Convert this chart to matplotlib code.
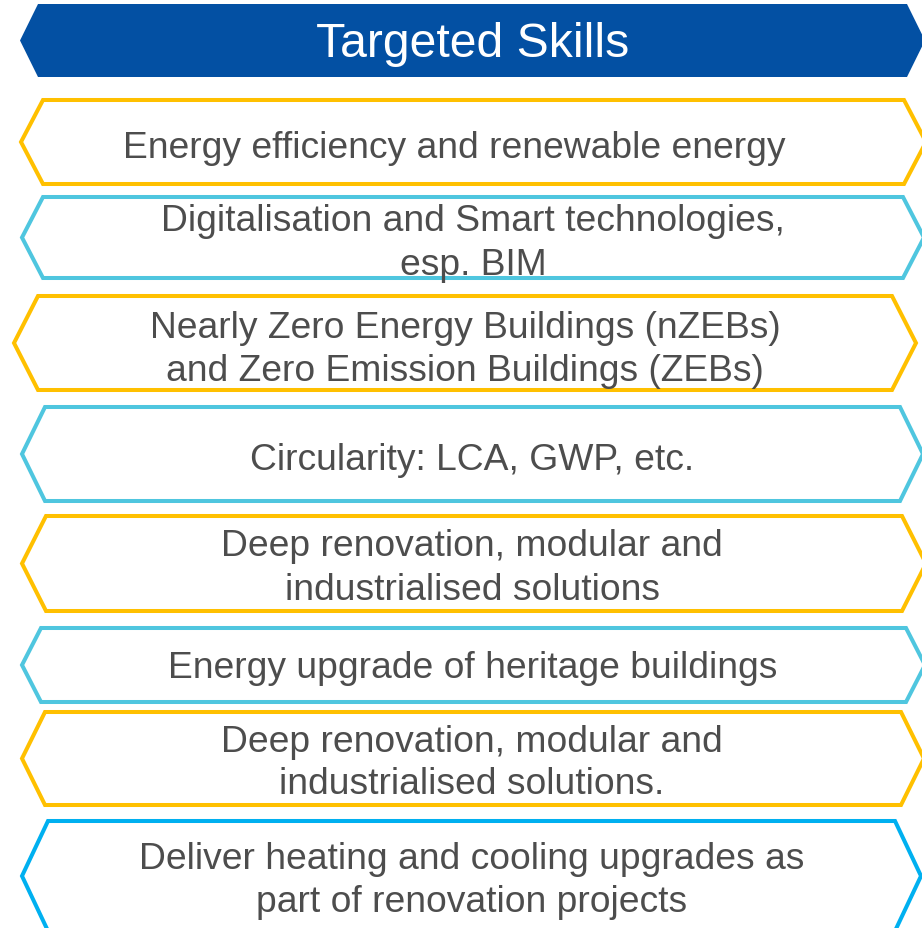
import matplotlib.pyplot as plt
from matplotlib.patches import Polygon

plt.rcParams['font.family'] = ['Liberation Sans', 'DejaVu Sans']

# header
header_text = "Targeted Skills"
header_color = "#0350A3"

# skill boxes (top to bottom)
skills = [
    ["Energy efficiency and renewable energy"],
    ["Digitalisation and Smart technologies,", "esp. BIM"],
    ["Nearly Zero Energy Buildings (nZEBs)", "and Zero Emission Buildings (ZEBs)"],
    ["Circularity: LCA, GWP, etc."],
    ["Deep renovation, modular and", "industrialised solutions"],
    ["Energy upgrade of heritage buildings"],
    ["Deep renovation, modular and", "industrialised solutions."],
    ["Deliver heating and cooling upgrades as", "part of renovation projects"],
]
edge_colors = ["#FFC000", "#4FC6DF", "#FFC000", "#4FC6DF",
               "#FFC000", "#4FC6DF", "#FFC000", "#00B0F0"]

# layout in pixels: top, bottom, left tip x, left corner x, right corner x
header_box = (5, 78, 20, 38, 907)
boxes = [
    (101, 185, 21, 43, 904),
    (198, 279, 22, 43, 903),
    (297, 391, 14, 38, 892),
    (408, 502, 22, 45, 900),
    (517, 612, 22, 46, 902),
    (629, 703, 22, 41, 906),
    (713, 806, 22, 45, 901),
    (822, 932, 22, 48, 895),
]
text_x = [454, 473, 465, 472, 472, 473, 472, 472]
line_y = [[148], [221, 265], [328, 371], [461], [547, 591], [669], [742, 785], [860, 903]]

W, H = 922, 929
fig = plt.figure(figsize=(W / 100, H / 100), dpi=100)
ax = fig.add_axes([0, 0, 1, 1])
ax.set_xlim(0, W)
ax.set_ylim(H, 0)
ax.axis('off')


def chevron(top, bottom, tip, corner, rcorner):
    mid = (top + bottom) / 2
    d = corner - tip
    return [(tip, mid), (corner, top), (rcorner, top), (rcorner + d, mid),
            (rcorner, bottom), (corner, bottom)]


t, b, tip, c, rc = header_box
ax.add_patch(Polygon(chevron(t, b, tip, c, rc), closed=True,
                     facecolor=header_color, edgecolor='none'))
ax.text(473, (t + b) / 2 + 3, header_text, color='white', fontsize=34.7,
        ha='center', va='center')

for lines, col, box, x, ys in zip(skills, edge_colors, boxes, text_x, line_y):
    t, b, tip, c, rc = box
    ax.add_patch(Polygon(chevron(t, b, tip, c, rc), closed=True,
                         facecolor='white', edgecolor=col, linewidth=2.9,
                         joinstyle='miter'))
    for line, y in zip(lines, ys):
        ax.text(x, y, line, color='#4D4D4D', fontsize=26.8,
                ha='center', va='center')

fig.savefig('out.png', dpi=100)
